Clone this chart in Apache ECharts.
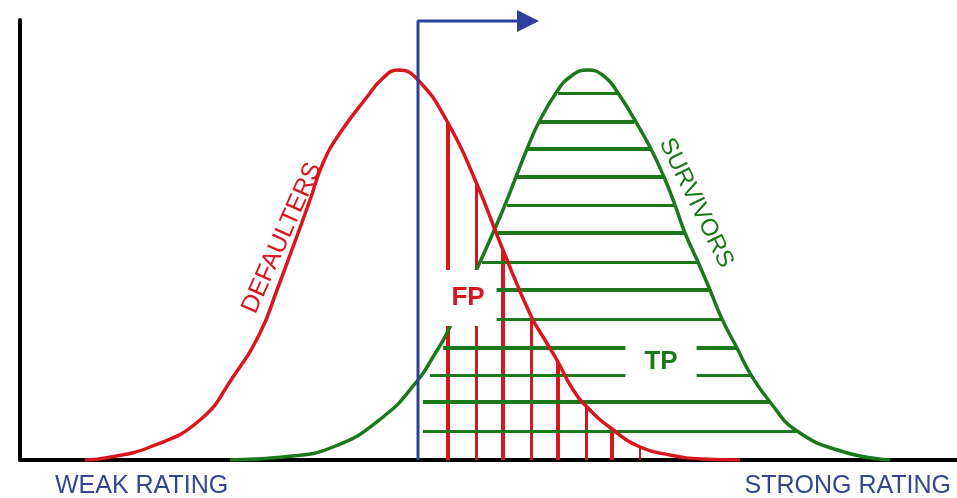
<!DOCTYPE html>
<html>
<head>
<meta charset="utf-8">
<title>Defaulters vs Survivors</title>
<script src="https://cdn.jsdelivr.net/npm/echarts@6.0.0/dist/echarts.min.js"></script>
<style>
    html, body { margin: 0; padding: 0; background: #fff; }
    #chart { width: 957px; height: 498px; }
</style>
</head>
<body>
<div id="chart"></div>
<script>
// 评分分布（横轴：评分，纵轴：频数，单位任意）

// 违约者曲线
const defaultersX = [6.5, 8.5, 13.0, 18.0, 21.3, 24.0, 25.7, 27.0, 29.0, 30.3, 32.0, 34.7, 36.3, 37.8, 39.8,
    42.8, 45.6, 48.3, 51.1, 52.5, 53.8, 55.2, 56.7, 59.2, 62.0, 65.0, 68.2, 72.0];
const defaultersY = [0, 0.2, 1.3, 4.0, 8.3, 12.7, 17.0, 20.5, 26.0, 29.7, 32.7, 36.3, 38.2, 39.0, 38.0,
    33.7, 27.8, 21.0, 14.4, 12.0, 9.8, 7.2, 5.3, 3.1, 1.3, 0.5, 0.1, 0];

// 存活者曲线
const survivorsX = [21.0, 26.3, 31.3, 36.3, 39.8, 41.3, 42.7, 44.4, 46.0, 47.3, 48.5, 49.6, 50.7, 51.9, 53.6,
    55.0, 56.8, 58.5, 59.8, 61.6, 63.1, 64.4, 65.5, 66.5, 67.8, 69.0, 70.2, 71.7, 73.1, 75.0, 77.7, 82.4, 87.0];
const survivorsY = [0, 0.3, 1.3, 4.3, 8.0, 10.3, 12.7, 16.4, 19.8, 22.7, 25.5, 28.3, 31.1, 33.8, 36.7,
    38.3, 39.0, 38.3, 36.7, 33.8, 31.1, 28.3, 25.5, 22.7, 19.8, 17.0, 14.1, 11.2, 8.5, 5.8, 2.9, 0.8, 0];

// 阈值（分界线）
const cutoff = 39.8;
const arrowLevel = 43.9;
const arrowEnd = 49.7;
const arrowTip = 50.8;

// FP 竖线（阈值右侧、违约者曲线下方）
const fpAt = [42.8, 45.6, 48.3, 51.1, 53.8, 56.6, 59.2, 62.0];
const fpTop = [33.7, 27.8, 21.0, 14.4, 9.8, 5.4, 3.1, 1.3];

// TP 横线（阈值右侧、存活者曲线下方）
const tpLevels = [36.7, 33.8, 31.1, 28.3, 25.5, 22.7, 19.8, 17.0, 14.1, 11.2, 8.5, 5.8, 2.9];
const tpFrom = [53.8, 52.0, 50.8, 49.5, 48.7, 47.6, 46.2, 44.4, 43.3, 42.3, 41.0, 40.3, 40.3];
const tpTo = [59.7, 61.4, 63.0, 64.3, 65.4, 66.4, 67.7, 68.9, 70.1, 71.6, 73.0, 74.9, 77.6];

// 样式
const RED = '#d8161e';
const GREEN = '#1b781b';
const BLUE = '#2f3f9c';
const NAVY = '#344690';
const FONT = '"Liberation Sans", Arial, sans-serif';
const FP_WIDTHS = [4, 3, 4, 3, 4, 3, 4, 2];
const TP_WIDTHS = [3, 4, 4, 4, 3, 4, 3, 4, 3, 4, 3, 4, 3];

const chart = echarts.init(document.getElementById('chart'));

const zip = (xs, ys) => xs.map((x, i) => [x, ys[i]]);

const option = {
    animation: false,
    backgroundColor: '#fff',
    grid: { left: 20, right: 0, top: 20, bottom: 38 },
    xAxis: {
        type: 'value', min: 0, max: 93.7,
        axisLine: { show: true, lineStyle: { color: '#000', width: 4 } },
        axisTick: { show: false }, axisLabel: { show: false }, splitLine: { show: false }
    },
    yAxis: {
        type: 'value', min: 0, max: 44,
        axisLine: { show: true, lineStyle: { color: '#000', width: 4 } },
        axisTick: { show: false }, axisLabel: { show: false }, splitLine: { show: false }
    },
    graphic: [
        { type: 'text', left: 55, top: 474,
          style: { text: 'WEAK RATING', fontSize: 25, fontFamily: FONT, fill: NAVY } },
        { type: 'text', right: 6, top: 474,
          style: { text: 'STRONG RATING', fontSize: 25, fontFamily: FONT, fill: NAVY } }
    ],
    series: [
        {
            type: 'lines', coordinateSystem: 'cartesian2d', z: 2, silent: true,
            data: fpAt.map((x, i) => ({
                coords: [[x, 0], [x, fpTop[i]]],
                lineStyle: { width: FP_WIDTHS[i] }
            })),
            lineStyle: { color: RED, opacity: 1, curveness: 0 }
        },
        {
            type: 'lines', coordinateSystem: 'cartesian2d', z: 2, silent: true,
            data: tpLevels.map((y, i) => ({
                coords: [[tpFrom[i], y], [tpTo[i], y]],
                lineStyle: { width: TP_WIDTHS[i] }
            })),
            lineStyle: { color: GREEN, opacity: 1, curveness: 0 }
        },
        {
            name: 'SURVIVORS', type: 'line', z: 3,
            data: zip(survivorsX, survivorsY),
            smooth: 0.5, showSymbol: false,
            lineStyle: { color: GREEN, width: 3.5 }
        },
        {
            name: 'DEFAULTERS', type: 'line', z: 3,
            data: zip(defaultersX, defaultersY),
            smooth: 0.5, showSymbol: false,
            lineStyle: { color: RED, width: 3.5 }
        },
        {
            name: 'cutoff', type: 'line', z: 4,
            data: [[cutoff, 0], [cutoff, arrowLevel], [arrowEnd, arrowLevel]],
            showSymbol: false,
            lineStyle: { color: BLUE, width: 3 },
            markPoint: {
                symbol: 'triangle', symbolSize: [22, 22], symbolRotate: -90,
                itemStyle: { color: BLUE },
                label: { show: false },
                data: [{ coord: [arrowTip, arrowLevel] }]
            }
        },
        {
            type: 'scatter', z: 10, symbolSize: 0, silent: true,
            itemStyle: { opacity: 1 },
            data: [
                { value: [26.2, 22.2], label: { formatter: 'DEFAULTERS', rotate: 66, color: RED, fontSize: 25 } },
                { value: [67.6, 25.7], label: { formatter: 'SURVIVORS', rotate: -64, color: GREEN, fontSize: 24 } },
                { value: [44.8, 16.2], label: { formatter: 'FP', color: RED, fontSize: 26, fontWeight: 'bold',
                    backgroundColor: '#fff', padding: [15, 12] } },
                { value: [64.1, 9.8], label: { formatter: 'TP', color: GREEN, fontSize: 26, fontWeight: 'bold',
                    backgroundColor: '#fff', padding: [14, 19] } }
            ],
            label: { show: true, position: 'inside', fontFamily: FONT, opacity: 1 }
        }
    ]
};

chart.setOption(option);
</script>
</body>
</html>
